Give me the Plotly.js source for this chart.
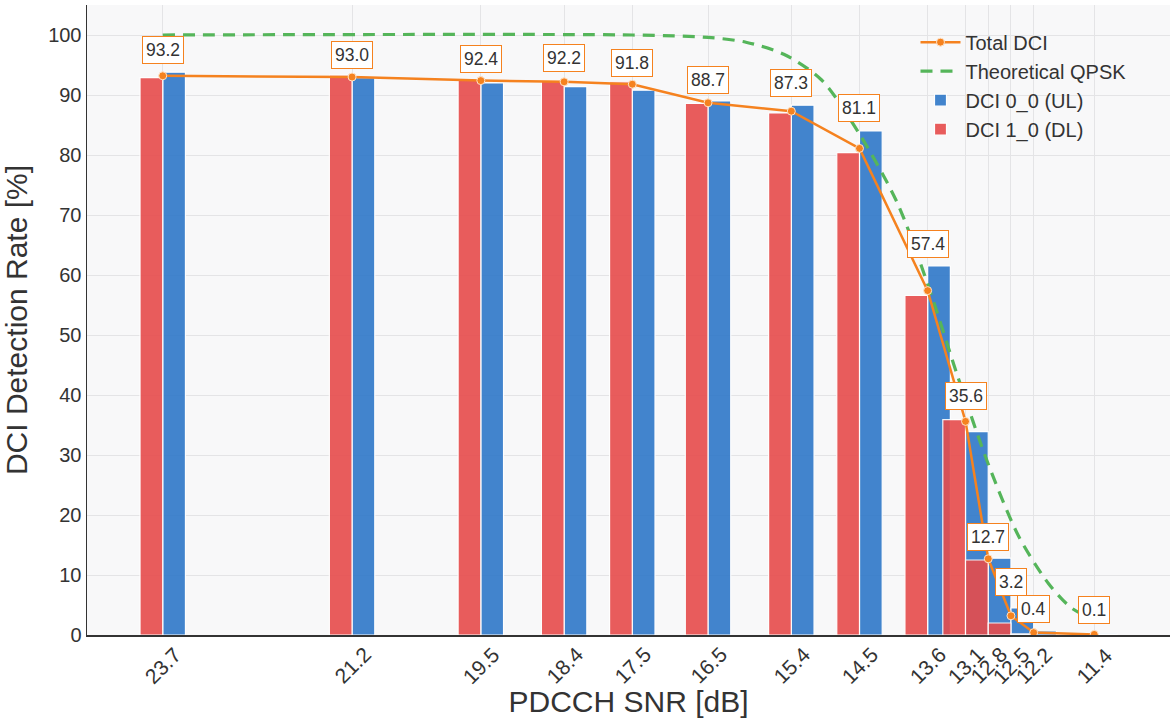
<!DOCTYPE html>
<html>
<head>
<meta charset="utf-8">
<script src="https://cdn.plot.ly/plotly-3.0.1.min.js"></script>
<style>html,body{margin:0;padding:0;background:#fff;}#chart{width:1174px;height:724px;}</style>
</head>
<body>
<div id="chart"></div>
<script>
// ---- data ----
const snrDb = [23.7, 21.2, 19.5, 18.4, 17.5, 16.5, 15.4, 14.5, 13.6, 13.1, 12.8, 12.5, 12.2, 11.4];
const tickLabels = ["23.7", "21.2", "19.5", "18.4", "17.5", "16.5", "15.4", "14.5", "13.6", "13.1", "12.8", "12.5", "12.2", "11.4"];
const totalDci = [93.2, 93.0, 92.4, 92.2, 91.8, 88.7, 87.3, 81.1, 57.4, 35.6, 12.7, 3.2, 0.4, 0.1];
const dci00Ul = [93.8, 92.9, 92.0, 91.4, 90.8, 89.0, 88.3, 84.0, 61.5, 33.9, 12.8, 4.5, 0.7, 0.2];
const dci10Dl = [92.9, 93.3, 92.5, 92.4, 92.2, 88.6, 87.0, 80.4, 56.6, 35.9, 12.5, 2.0, 0.2, 0.0];
const theoSnr = [23.7, 17.5, 16.5, 16.0, 15.5, 15.0, 14.5, 14.0, 13.6, 13.2, 12.8, 12.4, 12.0, 11.7, 11.4];
const theoQpsk = [100, 100, 99.6, 98.8, 96.8, 92.5, 83.5, 72.0, 58.5, 43.0, 28.5, 16.5, 8.5, 4.5, 2.5];

// ---- styling ----
const labelLift = [26, 22, 22, 24, 21, 23, 28, 40, 47, 25, 22, 34, 24, 24];
const FONT = "Liberation Sans, Arial, Helvetica, sans-serif";
const TXT = "#333333";
const ORANGE = "#f5821f";
const GREEN = "#55b55a";
const BLUE = "#2f78c9";
const RED = "#e74c4c";
const BAR_W = 0.3;

const traces = [
  {
    type: "bar", name: "DCI 0_0 (UL)", x: snrDb, y: dci00Ul,
    width: BAR_W, offset: -BAR_W, opacity: 0.9,
    marker: {color: BLUE, line: {color: "#ffffff", width: 1.2}},
    legendrank: 3, hoverinfo: "x+y+name"
  },
  {
    type: "bar", name: "DCI 1_0 (DL)", x: snrDb, y: dci10Dl,
    width: BAR_W, offset: 0, opacity: 0.9,
    marker: {color: RED, line: {color: "#ffffff", width: 1.2}},
    legendrank: 4, hoverinfo: "x+y+name"
  },
  {
    type: "scatter", mode: "lines", name: "Theoretical QPSK", x: theoSnr, y: theoQpsk,
    line: {color: GREEN, width: 3.2, dash: "12px,8px", shape: "spline", smoothing: 0.8},
    legendrank: 2
  },
  {
    type: "scatter", mode: "lines+markers", name: "Total DCI", x: snrDb, y: totalDci,
    line: {color: ORANGE, width: 2.5},
    marker: {color: ORANGE, size: 8, line: {color: "#ffe3c8", width: 1}},
    legendrank: 1
  }
];

const annotations = [];
snrDb.forEach((v, i) => {
  annotations.push({
    x: v, y: totalDci[i], xref: "x", yref: "y",
    text: totalDci[i].toFixed(1), showarrow: false,
    xanchor: "center", yanchor: "middle", yshift: labelLift[i],
    bgcolor: "#ffffff", bordercolor: ORANGE, borderwidth: 1, borderpad: 3,
    font: {family: FONT, size: 17.5, color: TXT}
  });
  annotations.push({
    x: v, y: 0, xref: "x", yref: "paper",
    text: tickLabels[i], showarrow: false, textangle: -45,
    xanchor: "center", yanchor: "middle", yshift: -30,
    font: {family: FONT, size: 21, color: TXT}
  });
});

const layout = {
  width: 1174, height: 724,
  margin: {l: 87, r: 4, t: 5, b: 89},
  paper_bgcolor: "#ffffff",
  plot_bgcolor: "#f8f8f9",
  font: {family: FONT, color: TXT},
  barmode: "overlay",
  showlegend: true,
  legend: {
    x: 0.765, y: 0.972, xanchor: "left", yanchor: "top",
    bgcolor: "rgba(0,0,0,0)", borderwidth: 0,
    font: {family: FONT, size: 20, color: TXT},
    traceorder: "normal", tracegroupgap: 4, itemwidth: 40
  },
  xaxis: {
    range: [24.7, 10.4], tickvals: snrDb, ticktext: tickLabels,
    showticklabels: false, ticks: "",
    showgrid: true, gridcolor: "#e4e4e6", gridwidth: 1,
    showline: true, linecolor: "#333333", linewidth: 1.5,
    zeroline: false,
    title: {text: "PDCCH SNR [dB]", font: {family: FONT, size: 30, color: TXT}, standoff: 55}
  },
  yaxis: {
    range: [0, 105], tick0: 0, dtick: 10, ticks: "",
    tickfont: {family: FONT, size: 20, color: TXT},
    showgrid: true, gridcolor: "#e4e4e6", gridwidth: 1,
    showline: true, linecolor: "#333333", linewidth: 1.5,
    zeroline: false,
    title: {text: "DCI Detection Rate [%]", font: {family: FONT, size: 30, color: TXT}, standoff: 14}
  },
  annotations: annotations
};

Plotly.newPlot("chart", traces, layout, {displayModeBar: false, staticPlot: true});
</script>
</body>
</html>
